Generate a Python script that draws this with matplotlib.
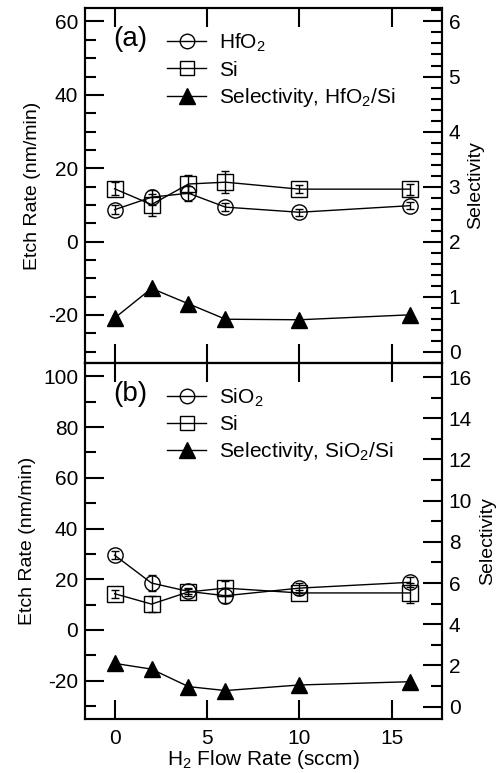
import matplotlib
matplotlib.use("Agg")
import matplotlib.pyplot as plt
from matplotlib.ticker import MultipleLocator

plt.rcParams['font.family'] = ['Liberation Sans', 'DejaVu Sans']
plt.rcParams['font.size'] = 15
plt.rcParams['axes.unicode_minus'] = False
plt.rcParams['mathtext.fontset'] = 'custom'
plt.rcParams['mathtext.rm'] = 'Liberation Sans'

# H2 flow rate (sccm)
flow = [0, 2, 4, 6, 10, 16]

# panel (a): HfO2 / Si
hfo2_rate = [8.7, 12.1, 13.2, 9.4, 8.0, 9.8]
hfo2_err = [1.2, 2.0, 2.0, 1.0, 1.0, 1.0]
si_a_rate = [14.4, 10.1, 15.7, 16.2, 14.3, 14.3]
si_a_err = [1.8, 3.0, 2.5, 3.0, 1.0, 1.5]
sel_a = [0.61, 1.15, 0.87, 0.59, 0.58, 0.67]

# panel (b): SiO2 / Si
sio2_rate = [29.5, 18.5, 15.2, 13.5, 16.5, 18.8]
sio2_err = [1.5, 3.0, 1.0, 3.0, 2.0, 2.0]
si_b_rate = [14.3, 10.2, 15.0, 16.5, 14.6, 14.6]
si_b_err = [1.5, 3.0, 1.5, 3.0, 1.0, 4.0]
sel_b = [2.1, 1.82, 0.97, 0.78, 1.05, 1.21]

fig = plt.figure(figsize=(5, 7.73), dpi=100)
ax_a = fig.add_axes([0.17, 0.5308, 0.7134, 0.4585])
ax_b = fig.add_axes([0.17, 0.0699, 0.7134, 0.4609])


def draw_panel(ax, rate1, err1, rate2, err2, sel, name1, sel_label, tag,
               ylim, ylim2, ymaj, ymin, smaj, smin, show_x):
    ax2 = ax.twinx()
    ms = 11
    h1 = ax.errorbar(flow, rate1, yerr=err1, color='black', marker='o', ms=ms,
                     mfc='none', mew=1, lw=1, capsize=3, elinewidth=1)
    h2 = ax.errorbar(flow, rate2, yerr=err2, color='black', marker='s', ms=ms,
                     mfc='none', mew=1, lw=1, capsize=3, elinewidth=1)
    h3, = ax2.plot(flow, sel, color='black', marker='^', ms=12, lw=1)

    ax.set_xlim(-1.6, 17.7)
    ax.set_ylim(*ylim)
    ax2.set_ylim(*ylim2)
    ax.xaxis.set_major_locator(MultipleLocator(5))
    ax.yaxis.set_major_locator(MultipleLocator(ymaj))
    ax.yaxis.set_minor_locator(MultipleLocator(ymin))
    ax2.yaxis.set_major_locator(MultipleLocator(smaj))
    ax2.yaxis.set_minor_locator(MultipleLocator(smin))

    for a in (ax, ax2):
        for s in a.spines.values():
            s.set_linewidth(1.5)
        a.tick_params(which='major', direction='in', length=14, width=1.5)
        a.tick_params(which='minor', direction='in', length=8, width=1.5)
    ax.tick_params(axis='x', top=True, bottom=True, labelbottom=show_x, pad=7)
    ax.tick_params(axis='y', right=False, pad=5)
    ax2.tick_params(axis='y', pad=5)

    ax.set_ylabel('Etch Rate (nm/min)', fontsize=14, labelpad=5)
    ax2.set_ylabel('Selectivity', fontsize=14, labelpad=5)
    if show_x:
        ax.set_xlabel(r'H$_2$ Flow Rate (sccm)', labelpad=0)

    ax.text(0.078, 0.912, tag, transform=ax.transAxes, fontsize=20,
            va='center', ha='left')
    ax2.legend([h1[0], h2[0], h3], [name1, 'Si', sel_label], loc='upper left',
               bbox_to_anchor=(0.19, 0.975), frameon=False, handlelength=1.85,
               handletextpad=0.65, labelspacing=0.3, fontsize=15,
               borderaxespad=0.3, markerscale=0.95)


draw_panel(ax_a, hfo2_rate, hfo2_err, si_a_rate, si_a_err, sel_a,
           r'HfO$_2$', r'Selectivity, HfO$_2$/Si', '(a)',
           (-33, 63.6), (-0.2, 6.24), 20, 5, 1, 0.2, False)
draw_panel(ax_b, sio2_rate, sio2_err, si_b_rate, si_b_err, sel_b,
           r'SiO$_2$', r'Selectivity, SiO$_2$/Si', '(b)',
           (-35.1, 105.4), (-0.6, 16.7), 20, 10, 2, 1, True)

fig.savefig('out.png', dpi=100)
